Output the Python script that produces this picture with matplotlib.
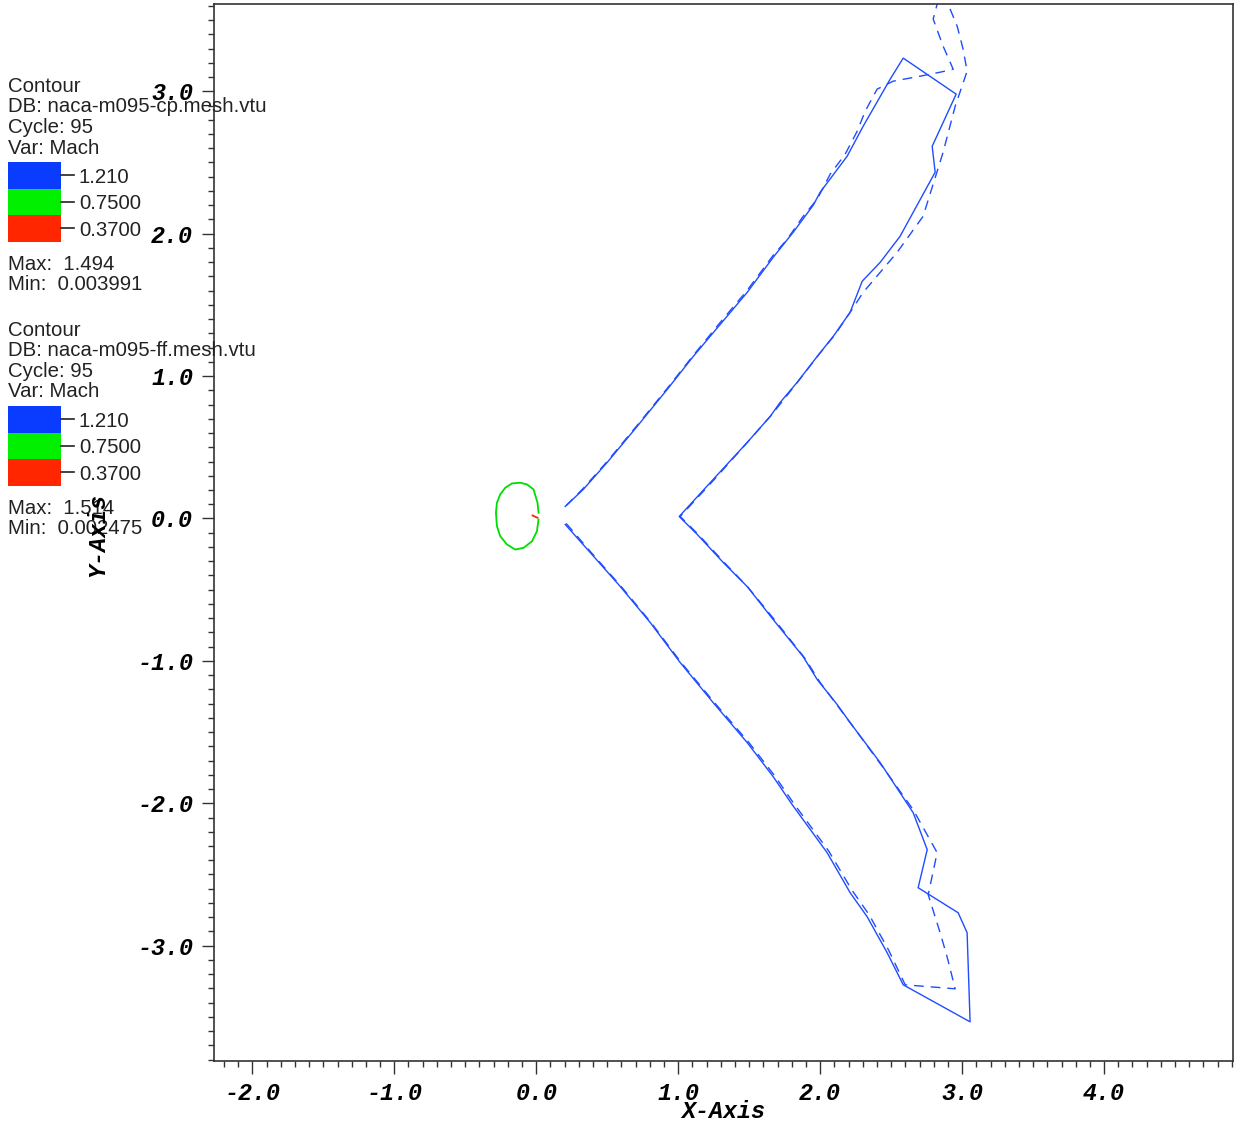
import matplotlib
matplotlib.use("Agg")
import matplotlib.pyplot as plt
from matplotlib.ticker import MultipleLocator, FormatStrFormatter
from matplotlib.patches import Rectangle
from matplotlib.font_manager import FontProperties

# Mach = 1.21 contour, cp mesh (solid)
cp_x = [0.204, 0.380, 0.592, 0.803, 1.014, 1.246, 1.486, 1.669, 1.803, 2.049, 2.211, 2.331,
        2.472, 2.585, 3.056, 3.035, 2.972, 2.690, 2.754, 2.655, 2.423, 2.211, 2.120, 1.979,
        1.880, 1.669, 1.486, 1.317, 1.134, 1.007, 1.246, 1.486, 1.648, 1.718, 1.838, 1.979,
        2.092, 2.211, 2.296, 2.423, 2.563, 2.810, 2.789, 2.958, 2.585, 2.493, 2.303, 2.190,
        2.000, 1.951, 1.810, 1.669, 1.486, 1.296, 1.106, 0.923, 0.711, 0.500, 0.331, 0.204]
cp_y = [-0.042, -0.239, -0.478, -0.731, -1.012, -1.293, -1.574, -1.813, -2.010, -2.347, -2.628,
        -2.797, -3.050, -3.275, -3.535, -2.909, -2.769, -2.593, -2.326, -2.066, -1.715, -1.434,
        -1.307, -1.131, -0.970, -0.710, -0.478, -0.309, -0.112, 0.014, 0.274, 0.534, 0.717,
        0.815, 0.956, 1.138, 1.279, 1.448, 1.666, 1.799, 1.982, 2.432, 2.614, 2.980, 3.233,
        3.085, 2.755, 2.544, 2.291, 2.200, 2.010, 1.834, 1.588, 1.363, 1.138, 0.907, 0.647,
        0.394, 0.204, 0.084]

# Mach = 1.21 contour, ff mesh (dashed)
ff_x = [0.211, 0.387, 0.600, 0.810, 1.021, 1.255, 1.495, 1.679, 1.815, 2.060, 2.225, 2.345,
        2.484, 2.599, 2.951, 2.894, 2.845, 2.761, 2.824, 2.655, 2.444, 2.232, 2.000, 1.894,
        1.683, 1.493, 1.324, 1.141, 1.014, 1.254, 1.493, 1.655, 1.845, 1.986, 2.106, 2.225,
        2.303, 2.423, 2.542, 2.725, 2.866, 2.951, 3.035, 3.007, 2.965, 2.901, 2.859, 2.824,
        2.796, 2.866, 2.937, 2.845, 2.704, 2.514, 2.401, 2.317, 2.261, 2.176, 2.070, 1.979,
        1.880, 1.768, 1.669, 1.486, 1.296, 1.106, 0.923, 0.711, 0.500, 0.331, 0.211]
ff_y = [-0.035, -0.239, -0.480, -0.733, -1.012, -1.293, -1.570, -1.806, -2.003, -2.335, -2.612,
        -2.783, -3.035, -3.275, -3.303, -3.078, -2.909, -2.642, -2.347, -2.045, -1.750, -1.462,
        -1.152, -0.984, -0.717, -0.485, -0.309, -0.112, 0.014, 0.274, 0.541, 0.724, 0.963,
        1.145, 1.293, 1.469, 1.588, 1.729, 1.869, 2.122, 2.572, 2.895, 3.141, 3.296, 3.457,
        3.612, 3.732, 3.612, 3.507, 3.317, 3.155, 3.134, 3.106, 3.071, 3.015, 2.860, 2.720,
        2.558, 2.417, 2.242, 2.122, 1.961, 1.848, 1.602, 1.377, 1.145, 0.914, 0.654, 0.401,
        0.211, 0.091]

# Mach = 0.75 contour around the airfoil
green_x = [0.016, 0.009, -0.019, -0.065, -0.113, -0.171, -0.218, -0.254, -0.277, -0.284,
           -0.277, -0.254, -0.206, -0.148, -0.089, -0.030, 0.005, 0.016]
green_y = [0.040, 0.110, 0.204, 0.239, 0.251, 0.246, 0.216, 0.169, 0.110, 0.040,
           -0.054, -0.124, -0.183, -0.218, -0.206, -0.160, -0.089, -0.007]

# Mach = 0.37 contour near the trailing edge
red_x = [-0.026, 0.009]
red_y = [0.021, 0.005]

levels = ["1.210", "0.7500", "0.3700"]
level_colors = ["#0a3cff", "#00f000", "#ff2600"]

legends = [
    dict(db="naca-m095-cp.mesh.vtu", cycle="95", var="Mach", vmax="1.494", vmin="0.003991"),
    dict(db="naca-m095-ff.mesh.vtu", cycle="95", var="Mach", vmax="1.514", vmin="0.002475"),
]

W, H = 1236, 1128
fig = plt.figure(figsize=(W / 100, H / 100), dpi=100)
ax = fig.add_axes([214 / W, 1 - 1061 / H, (1233 - 214) / W, (1061 - 4) / H])

line_blue = "#1f4cff"
ax.plot(cp_x, cp_y, color=line_blue, lw=1.0)
ax.plot(ff_x, ff_y, color=line_blue, lw=1.0, dashes=(7, 5))
ax.plot(green_x, green_y, color="#00dd00", lw=1.3)
ax.plot(red_x, red_y, color="#ff2600", lw=1.3)

ax.set_xlim(-2.270, 4.908)
ax.set_ylim(-3.810, 3.613)

mono = dict(family="Liberation Mono", weight="bold", style="italic", size=16.8)
ax.xaxis.set_major_locator(MultipleLocator(1.0))
ax.xaxis.set_minor_locator(MultipleLocator(0.1))
ax.yaxis.set_major_locator(MultipleLocator(1.0))
ax.yaxis.set_minor_locator(MultipleLocator(0.1))
ax.xaxis.set_major_formatter(FormatStrFormatter("%.1f"))
ax.yaxis.set_major_formatter(FormatStrFormatter("%.1f"))
ax.tick_params(which="major", direction="out", length=9, width=1.0, color="#333333", pad=6)
ax.tick_params(which="minor", direction="out", length=4.5, width=1.0, color="#333333")
for lab in ax.get_xticklabels() + ax.get_yticklabels():
    lab.set_fontproperties(FontProperties(**mono))
for sp in ax.spines.values():
    sp.set_color("#333333")
    sp.set_linewidth(1.2)

fig.text(723 / W, 1 - 1112 / H, "X-Axis", ha="center", va="center", **mono)
fig.text(98 / W, 1 - 535 / H, "Y-Axis", ha="center", va="center", rotation=90, zorder=5, **mono)

# Contour legends
sans = dict(family="Liberation Sans", size=14.7, color="#222222")
for k, leg in enumerate(legends):
    y0 = 86.5 + 244 * k
    lines = ["Contour", "DB: " + leg["db"], "Cycle: " + leg["cycle"], "Var: " + leg["var"]]
    for i, t in enumerate(lines):
        fig.text(8 / W, 1 - (y0 + 20.5 * i) / H, t, ha="left", va="center", **sans)
    box_top = y0 + 75.5
    for j, (lv, col) in enumerate(zip(levels, level_colors)):
        top = box_top + 26.5 * j
        fig.add_artist(Rectangle((8 / W, 1 - (top + 26.5) / H), 53 / W, 26.5 / H,
                                 transform=fig.transFigure, facecolor=col, edgecolor="none"))
        yc = 1 - (top + 13.25) / H
        fig.add_artist(plt.Line2D([61 / W, 74 / W], [yc, yc], transform=fig.transFigure,
                                  color="#222222", lw=1.2))
        fig.text(79 / W, yc - 2.0 / H, lv, ha="left", va="center", **sans)
    fig.text(8 / W, 1 - (y0 + 177.5) / H, "Max:  " + leg["vmax"], ha="left", va="center", **sans)
    fig.text(8 / W, 1 - (y0 + 197.5) / H, "Min:  " + leg["vmin"], ha="left", va="center", **sans)

fig.savefig("out.png", dpi=100)
